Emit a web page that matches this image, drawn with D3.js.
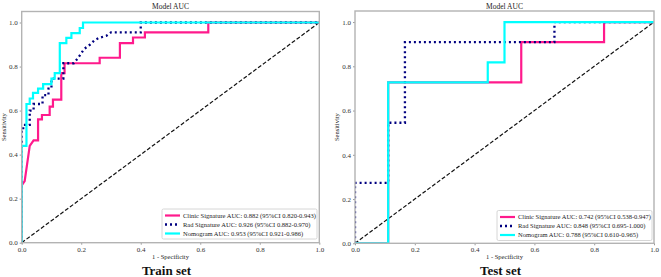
<!DOCTYPE html>
<html>
<head>
<meta charset="utf-8">
<script src="https://cdn.jsdelivr.net/npm/d3@7"></script>
<style>
  body { margin: 0; background: #fff; }
  svg { display: block; font-family: "Liberation Serif", "Times New Roman", serif; }
</style>
</head>
<body>
<div id="chart"></div>
<script>
// ROC points: [1 - specificity, sensitivity]
const trainClinic = [[0,0],[0,0.26],[0.01,0.28],[0.027,0.44],[0.04,0.465],[0.055,0.465],[0.055,0.56],[0.068,0.56],[0.068,0.58],[0.094,0.58],[0.094,0.618],[0.105,0.618],[0.105,0.65],[0.133,0.65],[0.133,0.77],[0.144,0.77],[0.144,0.815],[0.262,0.815],[0.262,0.84],[0.33,0.84],[0.33,0.906],[0.374,0.906],[0.374,0.932],[0.414,0.932],[0.414,0.955],[0.627,0.955],[0.627,1],[1,1]]
const trainRad = [[0,0],[0,0.51],[0.005,0.51],[0.005,0.535],[0.027,0.535],[0.027,0.6],[0.04,0.6],[0.04,0.63],[0.07,0.63],[0.07,0.67],[0.09,0.67],[0.09,0.7],[0.1,0.7],[0.1,0.745],[0.14,0.745],[0.14,0.815],[0.175,0.815],[0.19,0.84],[0.2,0.86],[0.21,0.88],[0.23,0.9],[0.245,0.92],[0.26,0.93],[0.285,0.94],[0.3,0.955],[0.4,0.955],[0.4,1],[1,1]]
const trainNomo = [[0,0],[0,0.44],[0.016,0.44],[0.016,0.63],[0.027,0.63],[0.027,0.655],[0.038,0.655],[0.038,0.68],[0.055,0.68],[0.055,0.7],[0.072,0.7],[0.072,0.72],[0.1,0.72],[0.1,0.745],[0.111,0.745],[0.111,0.77],[0.128,0.77],[0.128,0.906],[0.15,0.906],[0.15,0.93],[0.167,0.93],[0.167,0.952],[0.195,0.952],[0.195,0.975],[0.206,0.975],[0.206,1],[1,1]]

const testClinic = [[0,0],[0.111,0],[0.111,0.727],[0.556,0.727],[0.556,0.909],[0.833,0.909],[0.833,1],[1,1]]
const testRad = [[0,0],[0,0.273],[0.111,0.273],[0.111,0.545],[0.167,0.545],[0.167,0.909],[0.667,0.909],[0.667,1],[1,1]]
const testNomo = [[0,0],[0.111,0],[0.111,0.727],[0.444,0.727],[0.444,0.818],[0.5,0.818],[0.5,1],[1,1]]

const trainLabels = ["Clinic Signature AUC: 0.882 (95%CI 0.820-0.943)", "Rad Signature AUC: 0.926 (95%CI 0.882-0.970)", "Nomogram AUC: 0.953 (95%CI 0.921-0.986)"]
const testLabels = ["Clinic Signature AUC: 0.742 (95%CI 0.538-0.947)", "Rad Signature AUC: 0.848 (95%CI 0.695-1.000)", "Nomogram AUC: 0.788 (95%CI 0.610-0.965)"]
const ticks = [0, 0.2, 0.4, 0.6, 0.8, 1.0]

const W = 661, H = 277
const colors = ["#ff1a8c", "#000080", "#00ffff"]

let svg = d3.select("#chart").append("svg").attr("width", W).attr("height", H)

function drawPanel(p) {
  let x = d3.scaleLinear().domain([0, 1]).range([p.left, p.right])
  let y = d3.scaleLinear().domain([0, 1.05]).range([p.bottom, p.top])
  let g = svg.append("g")

  let xAxis = g.append("g").attr("transform", "translate(0," + p.bottom + ")")
    .call(d3.axisBottom(x).tickValues(ticks).tickFormat(d3.format(".1f")).tickSize(2).tickPadding(2))
  let yAxis = g.append("g").attr("transform", "translate(" + p.left + ",0)")
    .call(d3.axisLeft(y).tickValues(ticks).tickFormat(d3.format(".1f")).tickSize(2).tickPadding(2))
  g.selectAll(".domain").remove()
  g.selectAll(".tick line").attr("stroke", "#555").attr("stroke-width", 0.6)
  g.selectAll(".tick text").attr("font-family", "Liberation Serif").attr("font-size", 7).attr("fill", "#333")

  // chance line
  g.append("line")
    .attr("x1", x(0)).attr("y1", y(0)).attr("x2", x(1)).attr("y2", y(1))
    .attr("stroke", "#111").attr("stroke-width", 1.2).attr("stroke-dasharray", "4,2")

  let line = d3.line().x(d => x(d[0])).y(d => y(d[1]))
  let clip = "clip" + p.id
  g.append("clipPath").attr("id", clip).append("rect")
    .attr("x", p.left).attr("y", p.top).attr("width", p.right - p.left).attr("height", p.bottom - p.top)
  let curves = g.append("g").attr("clip-path", "url(#" + clip + ")")
  curves.append("path").datum(p.clinic).attr("d", line)
    .attr("fill", "none").attr("stroke", colors[0]).attr("stroke-width", 2.2)
  curves.append("path").datum(p.rad).attr("d", line)
    .attr("fill", "none").attr("stroke", colors[1]).attr("stroke-width", 2.3)
    .attr("stroke-dasharray", "2,3")
  curves.append("path").datum(p.nomo).attr("d", line)
    .attr("fill", "none").attr("stroke", colors[2]).attr("stroke-width", 2.2)

  // frame
  g.append("rect").attr("x", p.left).attr("y", p.top)
    .attr("width", p.right - p.left).attr("height", p.bottom - p.top)
    .attr("fill", "none").attr("stroke", "#b3b3b3").attr("stroke-width", 1.4)

  g.append("text").attr("x", (p.left + p.right) / 2).attr("y", 8.5)
    .attr("text-anchor", "middle").attr("font-size", 7.5).attr("fill", "#222").text("Model AUC")
  g.append("text").attr("x", (p.left + p.right) / 2).attr("y", 259)
    .attr("text-anchor", "middle").attr("font-size", 6.5).attr("fill", "#222").text("1 - Specificity")
  g.append("text").attr("transform", "translate(" + (p.left - 16) + "," + ((p.top + p.bottom) / 2) + ") rotate(-90)")
    .attr("text-anchor", "middle").attr("font-size", 6.5).attr("fill", "#222").text("Sensitivity")
  g.append("text").attr("x", (p.left + p.right) / 2 - 4).attr("y", 275)
    .attr("text-anchor", "middle").attr("font-size", 13).attr("font-weight", "bold").attr("fill", "#111").text(p.name)

  // legend
  let lg = g.append("g").attr("transform", "translate(" + p.legX + "," + p.legY + ")")
  lg.append("rect").attr("width", p.legW).attr("height", 30).attr("rx", 1.5)
    .attr("fill", "#fff").attr("stroke", "#ccc").attr("stroke-width", 0.8)
  p.labels.forEach((t, i) => {
    let yy = 6.5 + i * 9
    let h = lg.append("line").attr("x1", 3).attr("x2", 18).attr("y1", yy).attr("y2", yy)
      .attr("stroke", colors[i]).attr("stroke-width", i == 1 ? 2.3 : 2.2)
    if (i == 1) h.attr("stroke-dasharray", "2,3")
    lg.append("text").attr("x", 21).attr("y", yy + 2.2).attr("font-size", 6.5).attr("fill", "#222").text(t)
  })
}

drawPanel({ id: 0, name: "Train set", left: 21.7, right: 319.3, top: 11.5, bottom: 242.7,
  clinic: trainClinic, rad: trainRad, nomo: trainNomo, labels: trainLabels, legX: 162, legY: 209, legW: 155 })
drawPanel({ id: 1, name: "Test set", left: 355, right: 654, top: 11, bottom: 243.3,
  clinic: testClinic, rad: testRad, nomo: testNomo, labels: testLabels, legX: 497, legY: 210.5, legW: 155 })
</script>
</body>
</html>
